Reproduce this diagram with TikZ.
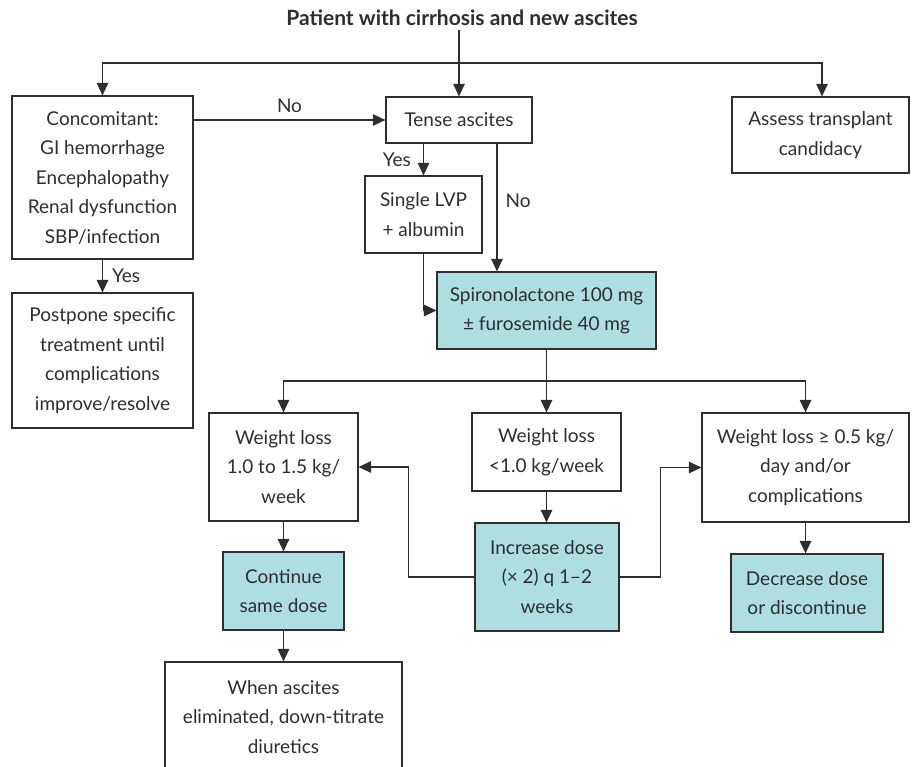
\documentclass[tikz,border=0pt]{standalone}
\usepackage{fontspec}
\setmainfont{Lato}
\usetikzlibrary{arrows.meta}
\definecolor{ink}{HTML}{2E2E2E}
\definecolor{teal}{HTML}{AEDEE0}
\tikzset{
  bx/.style={draw=ink, line width=1.2pt, inner sep=0pt, align=center,
    text=ink, font=\fontsize{19}{29.5}\selectfont},
  rx/.style={bx, fill=teal},
  arr/.style={draw=ink, line width=1.2pt, -{Triangle[length=12.5pt,width=11.5pt]}},
  ln/.style={draw=ink, line width=1.2pt},
  lbl/.style={text=ink, font=\fontsize{19}{22}\selectfont, inner sep=0pt}
}
\begin{document}
\begin{tikzpicture}[x=1pt,y=-1pt]
\clip (0,0) rectangle (913,767);
\fill[white] (0,0) rectangle (913,767);

% title
\node[text=ink, font=\fontsize{21}{24}\selectfont\bfseries, inner sep=4pt] (title) at (462,18) {Patient with cirrhosis and new ascites};

% boxes
\node[bx, minimum width=181, minimum height=163] (conc) at (102.5,177.5)
  {Concomitant:\\GI hemorrhage\\Encephalopathy\\Renal dysfunction\\SBP/infection};
\node[bx, minimum width=181, minimum height=135] (post) at (102.5,360.5)
  {Postpone specific\\treatment until\\complications\\improve/resolve};
\node[bx, minimum width=146, minimum height=46] (tense) at (459,120) {Tense ascites};
\node[bx, minimum width=177, minimum height=76] (assess) at (820.5,135)
  {Assess transplant\\candidacy};
\node[bx, minimum width=117, minimum height=77] (lvp) at (423.5,214.5)
  {Single LVP\\+ albumin};
\node[rx, minimum width=219, minimum height=77] (spiro) at (546.5,310.5)
  {Spironolactone 100 mg\\± furosemide 40 mg};
\node[bx, minimum width=149, minimum height=108] (wl1) at (283.5,467)
  {Weight loss\\1.0 to 1.5 kg/\\week};
\node[bx, minimum width=149, minimum height=78] (wl2) at (546.5,452)
  {Weight loss\\<1.0 kg/week};
\node[bx, minimum width=207, minimum height=109] (wl3) at (805.5,467.5)
  {Weight loss ≥ 0.5 kg/\\day and/or\\complications};
\node[rx, minimum width=121, minimum height=78] (cont) at (283.5,591)
  {Continue\\same dose};
\node[rx, minimum width=144, minimum height=108] (inc) at (547,577)
  {Increase dose\\(× 2) q 1–2\\weeks};
\node[rx, minimum width=152, minimum height=78] (dec) at (807,593)
  {Decrease dose\\or discontinue};
\node[bx, minimum width=237, minimum height=110] (when) at (283.5,717)
  {When ascites\\eliminated, down-titrate\\diuretics};

% top branching
\coordinate (br) at (459,63);
\draw[arr] (title.south -| tense.north) -- (tense.north);
\draw[arr] (br) -| (conc.north);
\draw[arr] (br) -| ([xshift=1.5pt]assess.north);

% concomitant decisions
\draw[arr] (conc.south) -- (post.north) node[lbl, midway, right=9pt] {Yes};
\draw[arr] (tense.west -| conc.east) -- (tense.west)
  node[lbl, pos=0.5, above=7pt] {No};

% tense ascites decisions
\draw[arr] (tense.south -| lvp.north) -- (lvp.north)
  node[lbl, midway, left=12pt] {Yes};
\coordinate (tno) at ([xshift=38pt]tense.south);
\draw[arr] (tno) -- (tno |- spiro.north)
  node[lbl, pos=0.45, right=8pt] {No};
\draw[arr] (lvp.south) |- (spiro.west);

% response branching
\coordinate (br2) at (546.5,381);
\draw[ln] (spiro.south) -- (br2);
\draw[arr] (br2) -| (wl1.north);
\draw[arr] (br2) -- (wl2.north);
\draw[arr] (br2) -| (wl3.north);

\draw[arr] (wl1.south) -- (cont.north);
\draw[arr] (cont.south) -- (when.north);
\draw[arr] (wl2.south) -- (wl2.south |- inc.north);
\draw[arr] (wl3.south) -- (wl3.south |- dec.north);

% feedback from dose increase
\draw[arr] (inc.west) -- ++(-66,0) |- (wl1.east);
\draw[arr] (inc.east) -- ++(41,0) |- (wl3.west);
\end{tikzpicture}
\end{document}
